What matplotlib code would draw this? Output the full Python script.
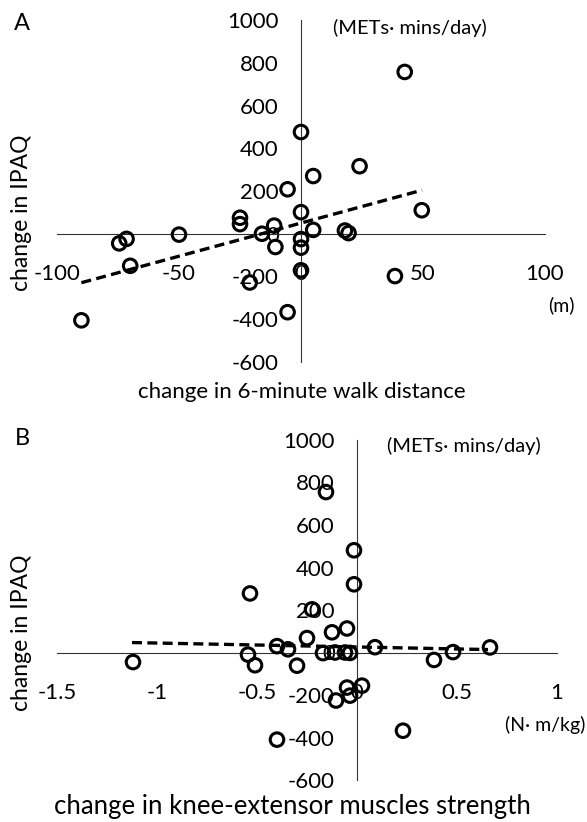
import numpy as np
import matplotlib.pyplot as plt

plt.rcParams['font.family'] = ['Lato', 'DejaVu Sans']
plt.rcParams['axes.unicode_minus'] = False

# panel A: change in 6-minute walk distance (m) vs change in IPAQ (METs*mins/day)
walk_change = [-90, -74.5, -71.5, -70, -50, -25, -25, -16, -11, -10.5, -21, -5.5,
               -5.5, 0, 0, 0, 0, 0, 5, 5, 18, 19.5, 24, 38.5, 42.5, 49.5]
ipaq_a = [-405, -45, -24, -150, -4, 75, 45, 0, 38, -62, -228, 208,
          -367, 476, 101, -25, -65, -171, 270, 18, 15, 3, 316, -198, 757, 110]
trend_a = [3.1, 50]        # slope, intercept of the dashed fit line
trend_a_x = [-90, 49.6]

# panel B: change in knee-extensor muscle strength (N*m/kg) vs change in IPAQ
knee_change = [-1.12, -0.535, -0.545, -0.51, -0.4, -0.4, -0.345, -0.3, -0.25, -0.225,
               -0.17, -0.155, -0.125, -0.11, -0.105, -0.06, -0.05, -0.05, -0.035, -0.035,
               -0.015, -0.015, 0.025, 0.09, 0.23, 0.385, 0.48, 0.665]
ipaq_b = [-45, 278, -10, -60, 30, -410, 15, -62, 68, 203,
          -3, 755, 95, 0, -226, 0, 113, -165, -2, -203,
          481, 321, -156, 25, -368, -35, 2, 24]
trend_b = [-18.5, 26]
trend_b_x = [-1.125, 0.655]

y_ticks = [-600, -400, -200, 0, 200, 400, 600, 800, 1000]
x_ticks_a = [-100, -50, 0, 50, 100]
x_ticks_b = [-1.5, -1, -0.5, 0, 0.5, 1]

W, H = 587, 822
fig = plt.figure(figsize=(W / 100, H / 100), dpi=100)


def px_box(x0, x1, y0, y1):
    # pixel edges -> figure fraction box
    return [x0 / W, 1 - y1 / H, (x1 - x0) / W, (y1 - y0) / H]


def panel(rect, x, y, trend, trend_x, xticks, xfmt):
    ax = fig.add_axes(rect)
    ax.set_xlim(xticks[0], xticks[-1])
    ax.set_ylim(y_ticks[0], y_ticks[-1])
    for s in ['top', 'right']:
        ax.spines[s].set_visible(False)
    ax.spines['left'].set_position(('data', 0))
    ax.spines['bottom'].set_position(('data', 0))
    for s in ['left', 'bottom']:
        ax.spines[s].set_linewidth(0.8)
        ax.spines[s].set_color('#333333')
    ax.set_xticks(xticks)
    ax.set_xticklabels([xfmt(v) for v in xticks])
    ax.set_yticks(y_ticks)
    ax.tick_params(axis='x', length=0, pad=22, labelsize=16)
    ax.tick_params(axis='y', length=0, pad=16, labelsize=16)
    ax.patch.set_alpha(0)

    tx = np.array(trend_x)
    ax.plot(tx, trend[0] * tx + trend[1], color='black', lw=2.4,
            dashes=(3, 1.6), zorder=3)
    ax.scatter(x, y, s=95, facecolors='none', edgecolors='black',
               linewidths=2.2, zorder=4, clip_on=False)
    return ax


panel(px_box(57, 545, 20, 362), walk_change, ipaq_a, trend_a, trend_a_x,
      x_ticks_a, lambda v: f'{v:g}')
panel(px_box(57, 557, 440, 780), knee_change, ipaq_b, trend_b, trend_b_x,
      x_ticks_b, lambda v: f'{v:g}')


def ftext(x, y, s, **kw):
    fig.text(x / W, 1 - y / H, s, **kw)


ftext(22, 24, 'A', fontsize=17, ha='center', va='center')
ftext(22, 438, 'B', fontsize=17, ha='center', va='center')

ftext(333, 28, '(METs\u00b7 mins/day)', fontsize=14.5, ha='left', va='center')
ftext(387, 446, '(METs\u00b7 mins/day)', fontsize=14.5, ha='left', va='center')
ftext(561, 305, '(m)', fontsize=14, ha='center', va='center')
ftext(545, 725, '(N\u00b7 m/kg)', fontsize=14, ha='center', va='center')

ftext(22, 213, 'change in IPAQ', fontsize=16.5, rotation=90, ha='center', va='center')
ftext(22, 633, 'change in IPAQ', fontsize=16.5, rotation=90, ha='center', va='center')

ftext(302, 392, 'change in 6-minute walk distance', fontsize=16, ha='center', va='center')
ftext(292, 806, 'change in knee-extensor muscles strength', fontsize=18.5,
      ha='center', va='center')

fig.savefig('out.png', dpi=100)
